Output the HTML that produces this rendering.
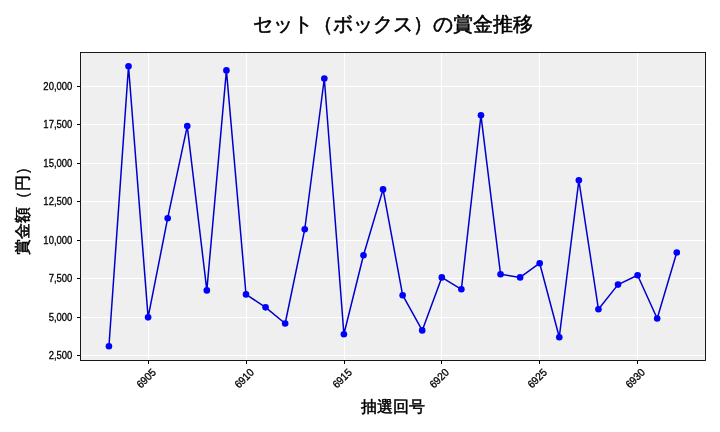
<!DOCTYPE html>
<html lang="ja"><head><meta charset="utf-8"><style>
html,body{margin:0;padding:0;background:#fff;width:720px;height:432px;overflow:hidden}
svg{display:block;will-change:transform}
text{font-family:"Liberation Sans",sans-serif;fill:#000}
.t{font-size:10px;stroke:#000;stroke-width:0.3}
.title{font-size:20px;stroke:#000;stroke-width:0.55}
.lab{font-size:16px;stroke:#000;stroke-width:0.5}
</style></head><body>
<svg width="720" height="432" viewBox="0 0 720 432">
<rect x="80.5" y="52.5" width="625.0" height="308.0" fill="#efefef"/>
<path d="M148.5 52.5V360.5M246.5 52.5V360.5M344.5 52.5V360.5M441.5 52.5V360.5M539.5 52.5V360.5M637.5 52.5V360.5M80.5 86.5H705.5M80.5 124.5H705.5M80.5 163.5H705.5M80.5 201.5H705.5M80.5 240.5H705.5M80.5 278.5H705.5M80.5 317.5H705.5M80.5 355.5H705.5" stroke="#ffffff" stroke-width="1" fill="none"/>
<path d="M108.94 346.25 L128.52 66.28 L148.10 317.36 L167.68 218.20 L187.26 126.10 L206.84 290.40 L226.42 70.40 L246.00 294.40 L265.58 307.36 L285.16 323.50 L304.74 229.30 L324.32 78.50 L343.90 334.30 L363.48 255.20 L383.06 189.40 L402.64 295.20 L422.22 330.40 L441.80 277.40 L461.38 289.30 L480.96 115.30 L500.54 274.20 L520.12 277.40 L539.70 263.20 L559.28 337.20 L578.86 180.30 L598.44 309.30 L618.02 284.60 L637.60 275.30 L657.18 318.50 L676.76 252.50" stroke="#0000cd" stroke-width="1.5" fill="none" stroke-linejoin="round" stroke-linecap="square"/>
<circle cx="108.94" cy="346.25" r="3.3" fill="#0000ff"/>
<circle cx="128.52" cy="66.28" r="3.3" fill="#0000ff"/>
<circle cx="148.10" cy="317.36" r="3.3" fill="#0000ff"/>
<circle cx="167.68" cy="218.20" r="3.3" fill="#0000ff"/>
<circle cx="187.26" cy="126.10" r="3.3" fill="#0000ff"/>
<circle cx="206.84" cy="290.40" r="3.3" fill="#0000ff"/>
<circle cx="226.42" cy="70.40" r="3.3" fill="#0000ff"/>
<circle cx="246.00" cy="294.40" r="3.3" fill="#0000ff"/>
<circle cx="265.58" cy="307.36" r="3.3" fill="#0000ff"/>
<circle cx="285.16" cy="323.50" r="3.3" fill="#0000ff"/>
<circle cx="304.74" cy="229.30" r="3.3" fill="#0000ff"/>
<circle cx="324.32" cy="78.50" r="3.3" fill="#0000ff"/>
<circle cx="343.90" cy="334.30" r="3.3" fill="#0000ff"/>
<circle cx="363.48" cy="255.20" r="3.3" fill="#0000ff"/>
<circle cx="383.06" cy="189.40" r="3.3" fill="#0000ff"/>
<circle cx="402.64" cy="295.20" r="3.3" fill="#0000ff"/>
<circle cx="422.22" cy="330.40" r="3.3" fill="#0000ff"/>
<circle cx="441.80" cy="277.40" r="3.3" fill="#0000ff"/>
<circle cx="461.38" cy="289.30" r="3.3" fill="#0000ff"/>
<circle cx="480.96" cy="115.30" r="3.3" fill="#0000ff"/>
<circle cx="500.54" cy="274.20" r="3.3" fill="#0000ff"/>
<circle cx="520.12" cy="277.40" r="3.3" fill="#0000ff"/>
<circle cx="539.70" cy="263.20" r="3.3" fill="#0000ff"/>
<circle cx="559.28" cy="337.20" r="3.3" fill="#0000ff"/>
<circle cx="578.86" cy="180.30" r="3.3" fill="#0000ff"/>
<circle cx="598.44" cy="309.30" r="3.3" fill="#0000ff"/>
<circle cx="618.02" cy="284.60" r="3.3" fill="#0000ff"/>
<circle cx="637.60" cy="275.30" r="3.3" fill="#0000ff"/>
<circle cx="657.18" cy="318.50" r="3.3" fill="#0000ff"/>
<circle cx="676.76" cy="252.50" r="3.3" fill="#0000ff"/>
<rect x="80.5" y="52.5" width="625.0" height="308.0" fill="none" stroke="#000" stroke-width="0.9"/>
<path d="M148.5 360.5v3.5M246.5 360.5v3.5M344.5 360.5v3.5M441.5 360.5v3.5M539.5 360.5v3.5M637.5 360.5v3.5M80.5 86.5h-3.5M80.5 124.5h-3.5M80.5 163.5h-3.5M80.5 201.5h-3.5M80.5 240.5h-3.5M80.5 278.5h-3.5M80.5 317.5h-3.5M80.5 355.5h-3.5" stroke="#000" stroke-width="1" fill="none"/>
<text transform="translate(72.4,90.3) scale(0.95,1.08)" text-anchor="end" class="t">20,000</text>
<text transform="translate(72.4,128.3) scale(0.95,1.08)" text-anchor="end" class="t">17,500</text>
<text transform="translate(72.4,167.3) scale(0.95,1.08)" text-anchor="end" class="t">15,000</text>
<text transform="translate(72.4,205.3) scale(0.95,1.08)" text-anchor="end" class="t">12,500</text>
<text transform="translate(72.4,244.3) scale(0.95,1.08)" text-anchor="end" class="t">10,000</text>
<text transform="translate(72.4,282.3) scale(0.95,1.08)" text-anchor="end" class="t">7,500</text>
<text transform="translate(72.4,321.3) scale(0.95,1.08)" text-anchor="end" class="t">5,000</text>
<text transform="translate(72.4,359.3) scale(0.95,1.08)" text-anchor="end" class="t">2,500</text>
<text transform="translate(148.8,381) rotate(-45) scale(1,1.08)" text-anchor="middle" class="t">6905</text>
<text transform="translate(246.8,381) rotate(-45) scale(1,1.08)" text-anchor="middle" class="t">6910</text>
<text transform="translate(344.8,381) rotate(-45) scale(1,1.08)" text-anchor="middle" class="t">6915</text>
<text transform="translate(441.8,381) rotate(-45) scale(1,1.08)" text-anchor="middle" class="t">6920</text>
<text transform="translate(539.8,381) rotate(-45) scale(1,1.08)" text-anchor="middle" class="t">6925</text>
<text transform="translate(637.8,381) rotate(-45) scale(1,1.08)" text-anchor="middle" class="t">6930</text>
<text x="393" y="31.3" text-anchor="middle" class="title">セット（ボックス）の賞金推移</text>
<text x="392.5" y="412" text-anchor="middle" class="lab">抽選回号</text>
<text transform="translate(27.5,206.5) rotate(-90)" text-anchor="middle" class="lab">賞金額（円）</text>
</svg>
</body></html>
